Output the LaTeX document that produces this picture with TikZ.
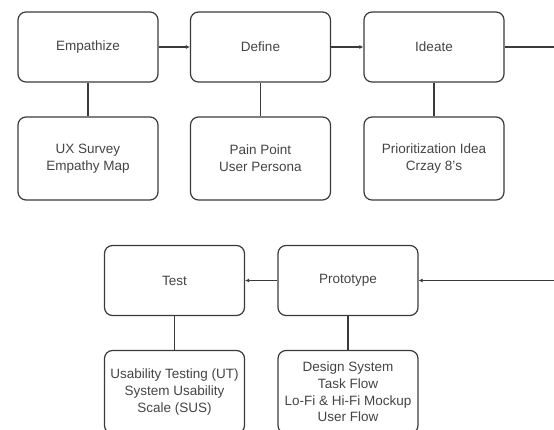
\documentclass[tikz,border=0pt]{standalone}
\usepackage{fontspec}
\setmainfont{Liberation Sans}
\usetikzlibrary{arrows.meta,positioning}
\definecolor{Line}{HTML}{3A3A3A}
\definecolor{Txt}{HTML}{444444}

\begin{document}
\begin{tikzpicture}[x=1pt,y=-1pt,
  stage/.style={draw=Line,line width=1.2pt,rounded corners=8pt,minimum width=140pt,minimum height=70pt,inner sep=0pt,text=Txt,align=center,font=\fontsize{13.5}{16.7}\selectfont},
  tool/.style={stage,minimum height=83pt},
  flow/.style={draw=Line,line width=1.2pt,-{Latex[length=4pt,width=4pt]}},
  link/.style={draw=Line,line width=1.2pt}]
\clip (0,0) rectangle (554,430);
% design thinking stages
\node[stage] (emp) at (88,47) {Empathize};
\node[stage] (def) at (260.5,47) {Define};
\node[stage] (ide) at (434,47) {Ideate};
\node[stage] (tes) at (174.5,280.5) {Test};
\node[stage] (pro) at (348,280.5) {Prototype};
% methods per stage
\node[tool] (empT) at (88,158.5) {UX Survey\\Empathy Map};
\node[tool] (defT) at (260.5,158.5) {Pain Point\\User Persona};
\node[tool] (ideT) at (434,158.5) {Prioritization Idea\\Crzay 8's};
\node[tool] (tesT) at (174.5,392) {Usability Testing (UT)\\System Usability\\Scale (SUS)};
\node[tool] (proT) at (348,392) {Design System\\Task Flow\\Lo-Fi \& Hi-Fi Mockup\\User Flow};
\coordinate (outA) at (560,47);
\coordinate (outB) at (560,280.5);
\draw[flow] (emp) -- (def);
\draw[flow] (def) -- (ide);
\draw[link] (ide) -- (outA);
\draw[flow] (outB) -- (pro);
\draw[flow] (pro) -- (tes);
\foreach \s in {emp,def,ide,tes,pro}{\draw[link] (\s) -- (\s T);}
\end{tikzpicture}
\end{document}
